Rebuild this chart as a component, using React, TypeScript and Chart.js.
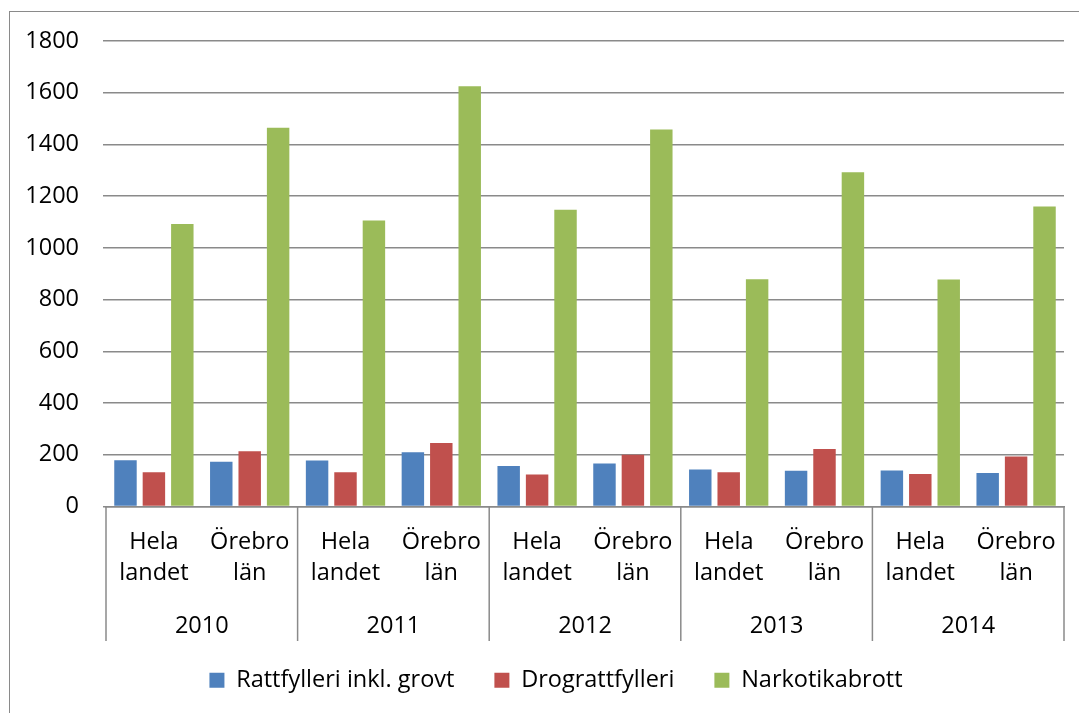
import React, { useEffect, useRef } from "react";
import { Chart, registerables } from "chart.js";

Chart.register(...registerables);

const years = ["2010", "2011", "2012", "2013", "2014"];
const regions: string[][] = [["Hela", "landet"], ["Örebro", "län"]];
const categories: string[][] = years.flatMap(() => regions);

const seriesNames = ["Rattfylleri inkl. grovt", "Drograttfylleri", "Narkotikabrott"];
const rattfylleri = [179, 173, 178, 210, 157, 166, 143, 138, 139, 130];
const drograttfylleri = [132, 214, 132, 246, 124, 200, 132, 222, 126, 193];
const narkotikabrott = [1092, 1465, 1106, 1625, 1147, 1458, 879, 1292, 878, 1160];
const seriesColors = ["#4F81BD", "#C0504D", "#9BBB59"];
const yTicks = [0, 200, 400, 600, 800, 1000, 1200, 1400, 1600, 1800];

const FONT = "'Open Sans', sans-serif";
const FS = 23.5;
const GRID = "#8a8a8a";

const legendShift = {
  id: "legendShift",
  afterLayout(chart: any) {
    if (chart.legend) {
      chart.legend.left += 24;
      chart.legend.right += 24;
    }
  },
};

const yearPlugin = {
  id: "yearLabels",
  afterDraw(chart: any) {
    const x = chart.scales.x;
    const area = chart.chartArea;
    const ctx = chart.ctx;
    const bottom = 641;
    ctx.save();
    ctx.strokeStyle = GRID;
    ctx.lineWidth = 1.5;
    const n = categories.length;
    const edges: number[] = [];
    for (let i = 0; i <= years.length; i++) {
      const idx = i * 2;
      let px: number;
      if (idx === 0) px = area.left;
      else if (idx >= n) px = area.right;
      else px = (x.getPixelForValue(idx - 1) + x.getPixelForValue(idx)) / 2;
      edges.push(px);
      ctx.beginPath();
      ctx.moveTo(px, area.bottom);
      ctx.lineTo(px, bottom);
      ctx.stroke();
    }
    ctx.fillStyle = "#000";
    ctx.font = `${FS}px ${FONT}`;
    ctx.textAlign = "center";
    ctx.textBaseline = "middle";
    years.forEach((y, i) => {
      ctx.fillText(y, (edges[i] + edges[i + 1]) / 2, 626);
    });
    ctx.restore();
  },
};

export default function App() {
  const ref = useRef<HTMLCanvasElement>(null);
  useEffect(() => {
    const chart = new Chart(ref.current!, {
      type: "bar",
      data: {
        labels: categories,
        datasets: [rattfylleri, drograttfylleri, narkotikabrott].map((d, i) => ({
          label: seriesNames[i],
          data: d,
          backgroundColor: seriesColors[i],
          borderWidth: 0,
          categoryPercentage: 0.89,
          barPercentage: 0.79,
        })),
      },
      options: {
        animation: false,
        responsive: false,
        maintainAspectRatio: false,
        layout: { padding: { top: 41, left: 0, right: 15, bottom: 11 } },
        plugins: {
          tooltip: { enabled: false },
          legend: {
            position: "bottom",
            labels: {
              boxWidth: 15,
              boxHeight: 15,
              padding: 40,
              color: "#000",
              font: { family: FONT, size: FS },
            },
          },
        },
        scales: {
          x: {
            afterFit(s: any) {
              s.height = 122;
            },
            grid: { display: false },
            border: { display: true, color: GRID, width: 1.5 },
            ticks: {
              autoSkip: false,
              maxRotation: 0,
              minRotation: 0,
              padding: 12,
              color: "#000",
              font: { family: FONT, size: FS, lineHeight: 1.32 },
            },
          },
          y: {
            min: 0,
            max: 1800,
            afterFit(s: any) {
              s.width = 106;
            },
            afterBuildTicks(s: any) {
              s.ticks = yTicks.map((v) => ({ value: v }));
            },
            border: { display: false },
            grid: { color: GRID, lineWidth: 1.5, tickLength: 3 },
            ticks: {
              padding: 24,
              color: "#000",
              font: { family: FONT, size: FS },
              callback: (v: any) => String(v),
            },
          },
        },
      },
      plugins: [legendShift, yearPlugin],
    });
    return () => chart.destroy();
  }, []);
  return (
    <div style={{ position: "fixed", left: 0, top: 0, width: 1079, height: 713, background: "#fff", overflow: "hidden" }}>
      <div
        style={{
          position: "absolute",
          left: 9,
          top: 11,
          width: 1200,
          height: 900,
          border: `1.5px solid ${GRID}`,
        }}
      />
      <canvas ref={ref} width={1079} height={713} style={{ position: "absolute", left: 0, top: 0 }} />
    </div>
  );
}
